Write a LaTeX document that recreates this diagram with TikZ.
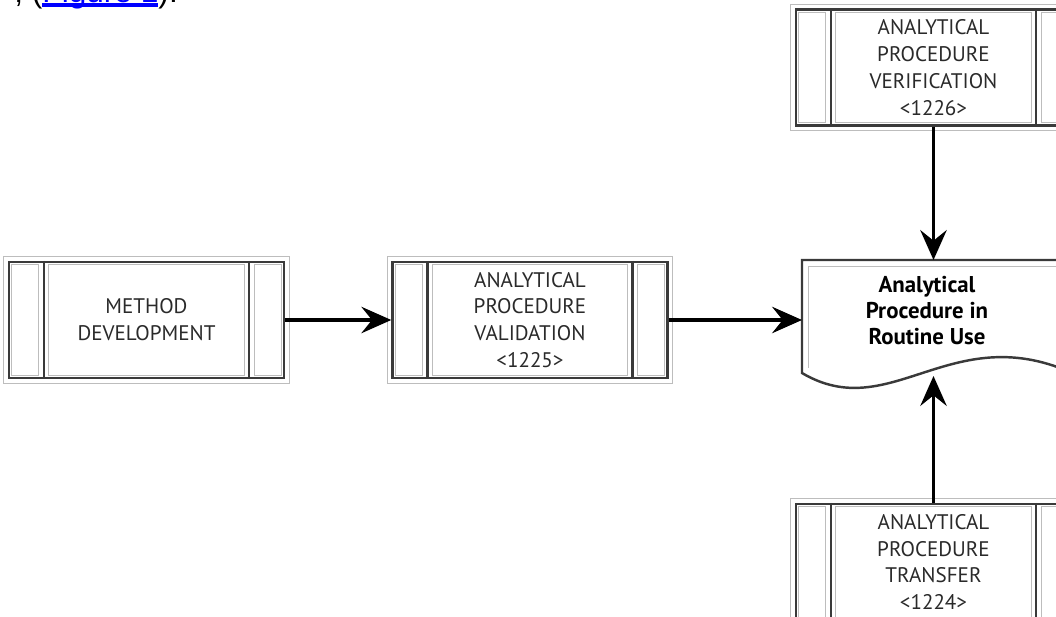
\documentclass[tikz,border=0pt]{standalone}
\usepackage{fontspec}
\setmainfont{PT Sans}
\newfontfamily\webfont{Liberation Sans}
\usetikzlibrary{positioning,arrows.meta}

\definecolor{boxline}{HTML}{3A3A3A}
\definecolor{boxtext}{HTML}{2A2A2A}
\definecolor{halo}{HTML}{BDBDBD}
\definecolor{linkblue}{HTML}{0000FF}

\newcommand\linkul[1]{\leavevmode\setbox0\hbox{#1}\rlap{\rule[-2.5pt]{\wd0}{2pt}}\box0}

\tikzset{
  procbox/.style={draw=boxline, line width=1.4pt, minimum width=5.5cm,
    minimum height=2.32cm, align=center, text=boxtext,
    font=\fontsize{12}{15.3}\selectfont},
  bar/.style={draw=boxline, line width=1.4pt},
  haloline/.style={draw=halo, line width=0.5pt},
  doctext/.style={align=center, text=black,
    font=\bfseries\fontsize{13}{14.8}\selectfont},
  flow/.style={line width=2pt, -{Stealth[length=17pt, width=15pt, inset=6pt]}}
}

\begin{document}
\begin{tikzpicture}[x=0.02cm, y=-0.02cm]
  \useasboundingbox (0,0) rectangle (1056,616);
  \clip (0,0) rectangle (1056,616);

  % text cut off by the top edge
  \node[anchor=base west, inner sep=0, font=\webfont\fontsize{18}{18}\selectfont]
    (figref) at (14,2.5) {, (\textcolor{linkblue}{\linkul{Figure 1}}).};

  % process boxes
  \node[procbox] (method) at (146.5,320) {METHOD\\DEVELOPMENT};
  \node[procbox] (valid) at (530,320) {ANALYTICAL\\PROCEDURE\\VALIDATION\\<1225>};
  \node[procbox] (verif) at (933.5,67.5) {ANALYTICAL\\PROCEDURE\\VERIFICATION\\<1226>};
  \node[procbox] (transfer) at (933.5,562) {ANALYTICAL\\PROCEDURE\\TRANSFER\\<1224>};

  % side bars and pale inner panes
  \foreach \b in {method,valid,verif,transfer} {
    \draw[bar] ([xshift=0.72cm]\b.north west) -- ([xshift=0.72cm]\b.south west);
    \draw[bar] ([xshift=-0.72cm]\b.north east) -- ([xshift=-0.72cm]\b.south east);
    \draw[haloline] ([shift={(0.08cm,-0.08cm)}]\b.north west)
      rectangle ([shift={(0.62cm,0.08cm)}]\b.south west);
    \draw[haloline] ([shift={(0.82cm,-0.08cm)}]\b.north west)
      rectangle ([shift={(-0.82cm,0.08cm)}]\b.south east);
    \draw[haloline] ([shift={(-0.62cm,-0.08cm)}]\b.north east)
      rectangle ([shift={(-0.08cm,0.08cm)}]\b.south east);
    \draw[haloline] ([shift={(-0.08cm,0.08cm)}]\b.north west)
      rectangle ([shift={(0.08cm,-0.08cm)}]\b.south east);
  }

  % document shape
  \node[doctext] (routine) at (927,311) {Analytical\\Procedure in\\Routine Use};
  \draw[bar] (1080,260) -- (802,260) -- (802,373)
    .. controls (890,425) and (950,320) .. (1070,372);
  \draw[haloline] (1080,266) -- (808,266) -- (808,368);
  \coordinate (doctop) at (933.5,260);
  \coordinate (docleft) at (802,320);
  \coordinate (docwave) at (933.5,376);

  % connectors
  \draw[flow] (method) -- (valid);
  \draw[flow] (valid) -- (docleft);
  \draw[flow] (verif) -- (doctop);
  \draw[flow] (transfer) -- (docwave);
\end{tikzpicture}
\end{document}
